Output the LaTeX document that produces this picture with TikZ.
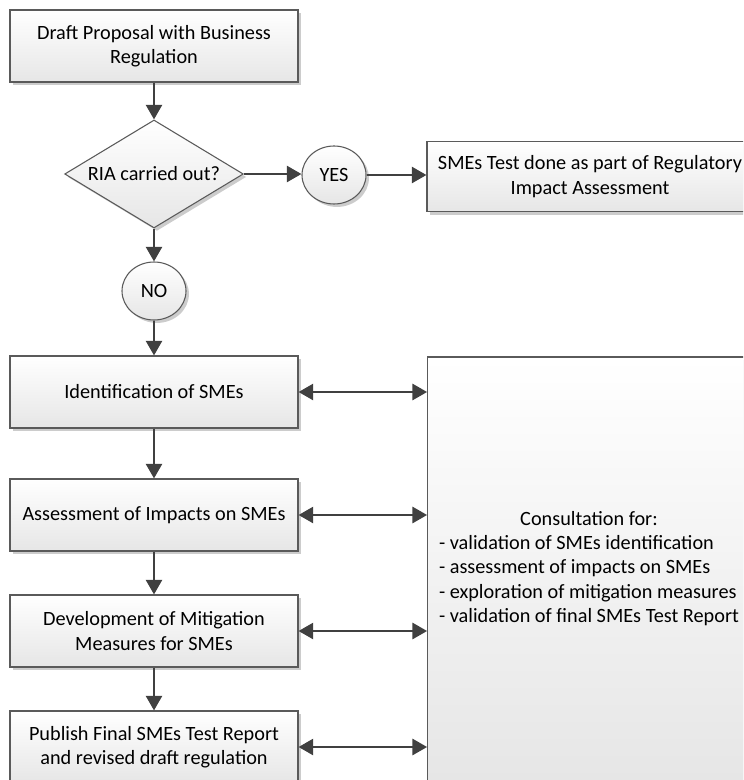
\documentclass[tikz,border=0pt]{standalone}
\usepackage{fontspec}
\setmainfont{Carlito}
\usetikzlibrary{arrows.meta,shapes.geometric,shadows}
\definecolor{smeline}{RGB}{90,90,90}
\definecolor{smearrow}{RGB}{64,64,64}
\definecolor{smefill}{RGB}{230,230,230}
\tikzset{
  shadebox/.style={draw=smeline,line width=.8pt,top color=white,bottom color=smefill,
    drop shadow={shadow xshift=2.2pt,shadow yshift=-2.2pt,fill=black!20,opacity=1}},
  stepbox/.style={shadebox,rectangle,minimum width=216pt,minimum height=54pt,inner sep=0pt,align=center},
  decision/.style={shadebox,diamond,aspect=1.66,minimum width=134pt,minimum height=81pt,inner sep=0pt},
  answer/.style={shadebox,ellipse,minimum width=48pt,minimum height=43.5pt,inner sep=0pt},
  flow/.style={draw=smearrow,line width=2pt,-{Triangle[length=11pt,width=12pt]}},
  twoway/.style={draw=smearrow,line width=2pt,{Triangle[length=11pt,width=12pt]}-{Triangle[length=11pt,width=12pt]}}
}

\begin{document}
\begin{tikzpicture}[x=.75pt,y=-.75pt,font=\fontsize{15.2}{18.2}\selectfont]
    \clip (0,0) rectangle (743,780);
    \node[stepbox] (draft) at (154,46) {Draft Proposal with Business\\Regulation};
    \node[decision] (ria) at (154,174) {RIA carried out?};
    \node[answer] (yes) at (334,175) {YES};
    \node[stepbox,minimum width=244.5pt,minimum height=53pt] (smes) at (590,176.5) {SMEs Test done as part of Regulatory\\Impact Assessment};
    \node[answer] (no) at (154,291) {NO};
    \node[stepbox] (ident) at (154,392) {Identification of SMEs};
    \node[stepbox] (assess) at (154,515) {Assessment of Impacts on SMEs};
    \node[stepbox] (devel) at (154,631) {Development of Mitigation\\Measures for SMEs};
    \node[stepbox] (publish) at (154,747) {Publish Final SMEs Test Report\\and revised draft regulation};
    \node[stepbox,minimum width=242pt,minimum height=318pt] (consult) at (589,569)
      {\begin{tabular}{@{}l@{}}\multicolumn{1}{@{}c@{}}{Consultation for:}\\
       - validation of SMEs identification\\
       - assessment of impacts on SMEs\\
       - exploration of mitigation measures\\
       - validation of final SMEs Test Report\end{tabular}};
    \draw[flow] (draft) -- (ria);
    \draw[flow] (ria) -- (ria -| yes.west);
    \draw[flow] (yes) -- (yes -| smes.west);
    \draw[flow] (ria) -- (no);
    \draw[flow] (no) -- (ident);
    \draw[flow] (ident) -- (assess);
    \draw[flow] (assess) -- (devel);
    \draw[flow] (devel) -- (publish);
    \draw[twoway] (ident) -- (ident -| consult.west);
    \draw[twoway] (assess) -- (assess -| consult.west);
    \draw[twoway] (devel) -- (devel -| consult.west);
    \draw[twoway] (publish) -- (publish -| consult.west);
  \end{tikzpicture}
\end{document}
